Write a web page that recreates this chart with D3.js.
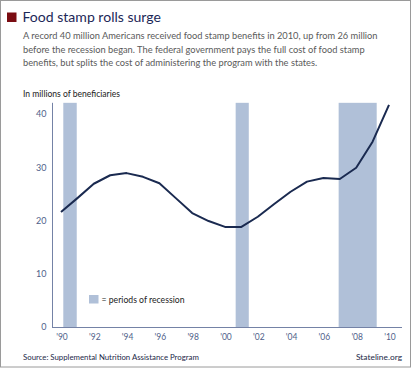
<!DOCTYPE html>
<html><head><meta charset="utf-8">
<script src="https://cdn.jsdelivr.net/npm/d3@7"></script>
<style>body{margin:0;background:#fff}svg{display:block}text{font-family:Lato,"Open Sans",sans-serif}</style>
</head><body>
<svg id="c" width="412" height="368"></svg>
<script>
const years = [1990,1991,1992,1993,1994,1995,1996,1997,1998,1999,2000,2001,2002,2003,2004,2005,2006,2007,2008,2009,2010];
const beneficiaries = [21.6,24.2,26.9,28.5,28.9,28.2,27.0,24.2,21.4,19.9,18.8,18.8,20.7,23.1,25.4,27.3,28.0,27.8,29.9,34.8,41.7];
const recessionStart = [1990.14, 2000.65, 2006.93];
const recessionEnd = [1990.96, 2001.45, 2009.25];
const yTicks = [0,10,20,30,40];
const xTicks = [1990,1992,1994,1996,1998,2000,2002,2004,2006,2008,2010];
const xTickLabels = ["'90","'92","'94","'96","'98","'00","'02","'04","'06","'08","'10"];
const title = "Food stamp rolls surge";
const subtitle = ["A record 40 million Americans received food stamp benefits in 2010, up from 26 million",
  "before the recession began. The federal government pays the full cost of food stamp",
  "benefits, but splits the cost of administering the program with the states."];
const yLabel = "In millions of beneficiaries";
const legendLabel = "= periods of recession";
const source = "Source: Supplemental Nutrition Assistance Program";
const credit = "Stateline.org";
const axisTop = 42.1;

const svg = d3.select("#c");
function fit(sel, w){ const n = sel.node(); const fs = parseFloat(sel.attr("font-size")); const m = n.getComputedTextLength(); sel.attr("font-size", (fs*w/m).toFixed(2)); }

svg.append("rect").attr("x",0.5).attr("y",0.5).attr("width",410).attr("height",366.5).attr("fill","#fff").attr("stroke","#9a9a9a");

svg.append("rect").attr("x",7).attr("y",12.5).attr("width",9.5).attr("height",9.5).attr("fill","#7a0c12");
const t = svg.append("text").attr("x",22.5).attr("y",22).attr("font-size",15).attr("fill","#1c2858").text(title);
fit(t,138.5);
const sub = svg.append("g");
let sfs;
subtitle.forEach((s,i)=>{
  const e = sub.append("text").attr("x",23).attr("y",39+i*13.6).attr("font-size",10.5).attr("fill","#5a5a5a").text(s);
  if(i===0){ fit(e,355); sfs = e.attr("font-size"); } else e.attr("font-size", sfs);
});

const x = d3.scaleLinear().domain([1990,2010]).range([61,389]);
const y = d3.scaleLinear().domain([0,40]).range([327,114]);

const yl = svg.append("text").attr("x",23).attr("y",96.5).attr("font-size",10).attr("fill","#222").text(yLabel);
fit(yl,97);

// recession bars
svg.append("g").selectAll("rect").data(recessionStart).join("rect")
  .attr("x",(d)=>x(d)).attr("width",(d,i)=>x(recessionEnd[i])-x(d))
  .attr("y",y(axisTop)).attr("height",y(0)-y(axisTop)).attr("fill","#b0c0d8");

// axes
svg.append("line").attr("x1",52.5).attr("x2",52.5).attr("y1",y(axisTop)).attr("y2",y(0)).attr("stroke","#7482a6").attr("stroke-width",1);
svg.append("line").attr("x1",52).attr("x2",402).attr("y1",y(0)+0.5).attr("y2",y(0)+0.5).attr("stroke","#7482a6").attr("stroke-width",1);

svg.append("g").selectAll("text").data(yTicks).join("text")
  .attr("x",46.5).attr("y",d=>y(d)+3.3).attr("text-anchor","end").attr("font-size",9).attr("fill","#4f5f8a").text(d=>d);
svg.append("g").selectAll("text").data(xTicks).join("text")
  .attr("x",d=>x(d)+1).attr("y",339.5).attr("text-anchor","middle").attr("font-size",8.5).attr("fill","#4f5f8a").text((d,i)=>xTickLabels[i]);

// line
const line = d3.line().x((d,i)=>x(years[i])).y(d=>y(d));
svg.append("path").datum(beneficiaries).attr("d",line).attr("fill","none").attr("stroke","#1a2a50").attr("stroke-width",2).attr("stroke-linejoin","round");

// legend
svg.append("rect").attr("x",89).attr("y",295).attr("width",9.5).attr("height",8.5).attr("fill","#b0c0d8");
const lg = svg.append("text").attr("x",101.5).attr("y",302.5).attr("font-size",10).attr("fill","#222").text(legendLabel);
fit(lg,83);

const src = svg.append("text").attr("x",23).attr("y",360).attr("font-size",10).attr("fill","#1c2848").text(source);
fit(src,176);
const cr = svg.append("text").attr("x",402).attr("y",360).attr("text-anchor","end").attr("font-size",10).attr("fill","#1c2848").text(credit);
fit(cr,46);
</script>
</body></html>
